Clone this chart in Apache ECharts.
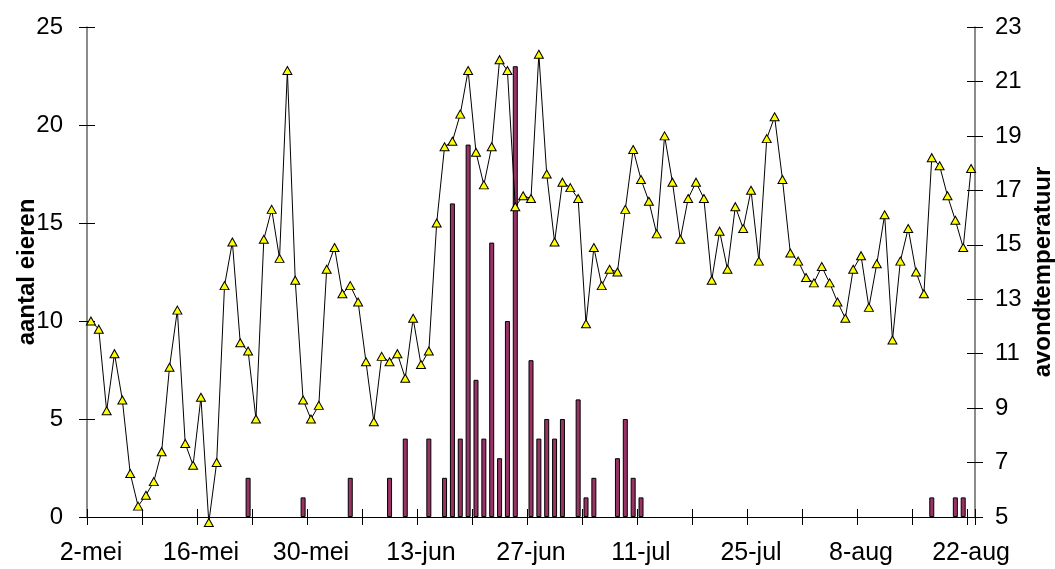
<!DOCTYPE html>
<html>
<head>
<meta charset="utf-8">
<script src="https://cdn.jsdelivr.net/npm/echarts@6/dist/echarts.min.js"></script>
<style>
  html, body { margin: 0; padding: 0; background: #fff; }
  #chart { width: 1055px; height: 569px; }
</style>
</head>
<body>
<div id="chart"></div>
<script>
// Daily categories: 2 mei .. 22 aug
const monthNames = ['mei', 'jun', 'jul', 'aug'];
const monthFirstDay = [2, 1, 1, 1];
const monthLastDay = [31, 30, 31, 22];

// Eggs counted per day (left axis)
const eggs = [
  0, 0, 0, 0, 0, 0, 0, 0, 0, 0,
  0, 0, 0, 0, 0, 0, 0, 0, 0, 0,
  2, 0, 0, 0, 0, 0, 0, 1, 0, 0,
  0, 0, 0, 2, 0, 0, 0, 0, 2, 0,
  4, 0, 0, 4, 0, 2, 16, 4, 19, 7,
  4, 14, 3, 10, 23, 0, 8, 4, 5, 4,
  5, 0, 6, 1, 2, 0, 0, 3, 5, 2,
  1, 0, 0, 0, 0, 0, 0, 0, 0, 0,
  0, 0, 0, 0, 0, 0, 0, 0, 0, 0,
  0, 0, 0, 0, 0, 0, 0, 0, 0, 0,
  0, 0, 0, 0, 0, 0, 0, 1, 0, 0,
  1, 1, 0
];

// Evening temperature per day (right axis)
const eveningTemp = [
  12.2, 11.9, 8.9, 11.0, 9.3, 6.6, 5.4, 5.8, 6.3, 7.4,
  10.5, 12.6, 7.7, 6.9, 9.4, 4.8, 7.0, 13.5, 15.1, 11.4,
  11.1, 8.6, 15.2, 16.3, 14.5, 21.4, 13.7, 9.3, 8.6, 9.1,
  14.1, 14.9, 13.2, 13.5, 12.9, 10.7, 8.5, 10.9, 10.7, 11.0,
  10.1, 12.3, 10.6, 11.1, 15.8, 18.6, 18.8, 19.8, 21.4, 18.4,
  17.2, 18.6, 21.8, 21.4, 16.4, 16.8, 16.7, 22.0, 17.6, 15.1,
  17.3, 17.1, 16.7, 12.1, 14.9, 13.5, 14.1, 14.0, 16.3, 18.5,
  17.4, 16.6, 15.4, 19.0, 17.3, 15.2, 16.7, 17.3, 16.7, 13.7,
  15.5, 14.1, 16.4, 15.6, 17.0, 14.4, 18.9, 19.7, 17.4, 14.7,
  14.4, 13.8, 13.6, 14.2, 13.6, 12.9, 12.3, 14.1, 14.6, 12.7,
  14.3, 16.1, 11.5, 14.4, 15.6, 14.0, 13.2, 18.2, 17.9, 16.8,
  15.9, 14.9, 17.8
];

const days = [];
monthNames.forEach(function (m, i) {
  for (let d = monthFirstDay[i]; d <= monthLastDay[i]; d++) days.push(d + '-' + m);
});

const FONT = '"Liberation Sans", Arial, sans-serif';
const LABEL_SIZE = 24;
const TICK_LEN = 8;

// Two copies of each axis: one draws the outward ticks, line and labels,
// the other the inward ticks, so the tick marks cross the axis line.
function catAxis(inside) {
  return {
    type: 'category',
    data: days,
    position: 'bottom',
    boundaryGap: true,
    axisLine: { show: !inside, lineStyle: { color: '#000', width: 1 } },
    axisTick: { show: true, inside: inside, length: TICK_LEN, interval: 6,
                lineStyle: { color: '#000', width: 1 } },
    axisLabel: { show: !inside, interval: 13, margin: 24, color: '#000',
                 fontFamily: FONT, fontSize: 25 },
    splitLine: { show: false }
  };
}

function valAxis(side, min, max, interval, inside, name, nameGap, labelMargin) {
  return {
    type: 'value',
    position: side,
    min: min, max: max, interval: interval,
    name: inside ? '' : name,
    nameLocation: 'middle',
    nameRotate: 90,
    nameGap: nameGap,
    nameMoveOverlap: false,
    nameTextStyle: { fontFamily: FONT, fontSize: LABEL_SIZE, fontWeight: 'bold', color: '#000' },
    axisLine: { show: !inside, onZero: false, lineStyle: { color: '#666', width: 1.5 } },
    axisTick: { show: true, inside: inside, length: TICK_LEN, lineStyle: { color: '#000', width: 1 } },
    axisLabel: { show: !inside, margin: labelMargin, color: '#000',
                 fontFamily: FONT, fontSize: LABEL_SIZE },
    splitLine: { show: false }
  };
}

const chart = echarts.init(document.getElementById('chart'), null, { renderer: 'canvas' });
chart.setOption({
  animation: false,
  backgroundColor: '#fff',
  grid: { left: 87, right: 80, top: 27, bottom: 52, containLabel: false, outerBoundsMode: 'none' },
  xAxis: [catAxis(false), catAxis(true)],
  yAxis: [
    valAxis('left', 0, 25, 5, false, 'aantal eieren', 48, 24),
    valAxis('right', 5, 23, 2, false, 'avondtemperatuur', 56, 20),
    valAxis('left', 0, 25, 5, true, '', 0, 0),
    valAxis('right', 5, 23, 2, true, '', 0, 0)
  ],
  series: [
    {
      name: 'aantal eieren',
      type: 'bar',
      xAxisIndex: 0,
      yAxisIndex: 0,
      // days without eggs get no bar at all
      data: eggs.map(function (v) { return v > 0 ? v : '-'; }),
      barWidth: 5,
      itemStyle: { color: '#993366', borderColor: '#000', borderWidth: 1 }
    },
    {
      name: 'avondtemperatuur',
      type: 'line',
      xAxisIndex: 0,
      yAxisIndex: 1,
      data: eveningTemp,
      clip: false,
      smooth: false,
      showSymbol: true,
      showAllSymbol: true,
      symbol: 'triangle',
      symbolSize: [9, 8],
      lineStyle: { color: '#000', width: 1 },
      itemStyle: { color: '#ffff00', borderColor: '#000', borderWidth: 1 },
      z: 3
    }
  ]
});
</script>
</body>
</html>
